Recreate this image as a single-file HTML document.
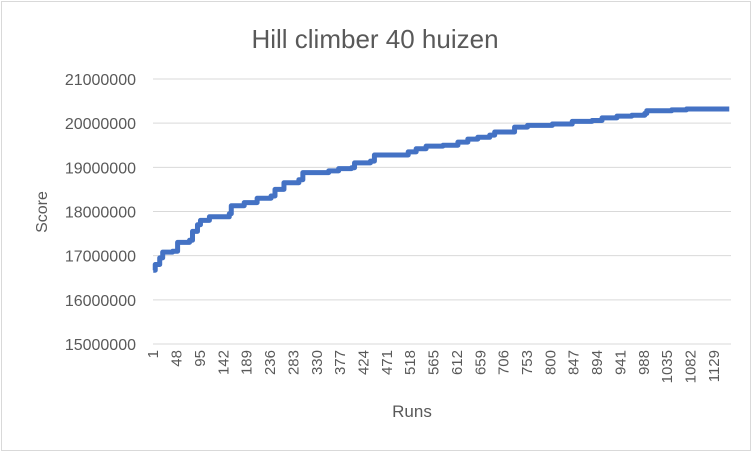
<!DOCTYPE html>
<html><head><meta charset="utf-8"><style>
html,body{margin:0;padding:0;background:#fff;}
svg{display:block;font-family:"Liberation Sans",Calibri,sans-serif;}
</style></head><body>
<svg width="752" height="452" viewBox="0 0 752 452">
<rect x="1.5" y="1.5" width="749" height="449" fill="#fff" stroke="#d9d9d9"/>
<text x="375" y="48" text-anchor="middle" font-size="26" fill="#595959">Hill climber 40 huizen</text>
<g id="grid"></g>
<g id="ylabels"></g>
<g id="xlabels"></g>
<path id="line" fill="none" stroke="#4472C4" stroke-width="5" stroke-linejoin="round"/>
<text x="47" y="212" text-anchor="middle" font-size="16" fill="#595959" transform="rotate(-90 47 212)">Score</text>
<text x="412" y="417" text-anchor="middle" font-size="17" fill="#595959">Runs</text>
</svg>
<script>
const yTicks=[15000000,16000000,17000000,18000000,19000000,20000000,21000000];
const xTickLabels=[1,48,95,142,189,236,283,330,377,424,471,518,565,612,659,706,753,800,847,894,941,988,1035,1082,1129];
const runs=[1,5,14,20,40,50,74,80,90,96,114,154,158,184,210,238,246,264,294,302,354,374,400,406,438,446,504,514,530,550,584,614,634,654,678,688,724,728,754,804,844,884,904,934,964,990,994,1034,1044,1074,1160];
const scores=[16.67,16.8,16.95,17.08,17.1,17.3,17.35,17.55,17.7,17.8,17.88,17.95,18.13,18.2,18.3,18.35,18.5,18.65,18.72,18.88,18.92,18.97,18.99,19.1,19.14,19.28,19.28,19.35,19.42,19.48,19.5,19.57,19.64,19.68,19.73,19.8,19.8,19.91,19.95,19.98,20.04,20.06,20.12,20.16,20.18,20.22,20.28,20.28,20.3,20.32,20.32];
const NRUNS=1163;
const X0=153,X1=731,Y0=344,Y1=79,YMIN=15000000,YMAX=21000000;
const NS='http://www.w3.org/2000/svg';
function xs(r){return X0+(r-0.5)*(X1-X0)/NRUNS;}
function ys(v){return Y0-(v-YMIN)/(YMAX-YMIN)*(Y0-Y1);}
const grid=document.getElementById('grid'),yl=document.getElementById('ylabels'),xl=document.getElementById('xlabels');
yTicks.forEach(t=>{
  const l=document.createElementNS(NS,'line');
  
  
  l.setAttribute('x1',X0);l.setAttribute('x2',X1);l.setAttribute('y1',ys(t));l.setAttribute('y2',ys(t));
  l.setAttribute('stroke','#d9d9d9');l.setAttribute('stroke-width','1');
  grid.appendChild(l);
  const tx=document.createElementNS(NS,'text');
  
  
  tx.setAttribute('x',136);tx.setAttribute('y',ys(t)+6);tx.setAttribute('text-anchor','end');
  tx.setAttribute('font-size','16');tx.setAttribute('fill','#595959');
  tx.textContent=t;yl.appendChild(tx);
});
xTickLabels.forEach(r=>{
  const x=xs(r)+5,y=350;
  const tx=document.createElementNS(NS,'text');
  
  
  tx.setAttribute('x',x);tx.setAttribute('y',y);tx.setAttribute('text-anchor','end');
  tx.setAttribute('font-size','15');tx.setAttribute('fill','#595959');
  tx.setAttribute('transform','rotate(-90 '+x+' '+y+')');
  tx.textContent=r;xl.appendChild(tx);
});
let d='M'+xs(runs[0])+' '+ys(scores[0]*1e6);
for(let i=1;i<runs.length;i++){
  d+=' L'+xs(runs[i])+' '+ys(scores[i-1]*1e6)+' L'+xs(runs[i])+' '+ys(scores[i]*1e6);
}
document.getElementById('line').setAttribute('d',d);
</script>
</body></html>
